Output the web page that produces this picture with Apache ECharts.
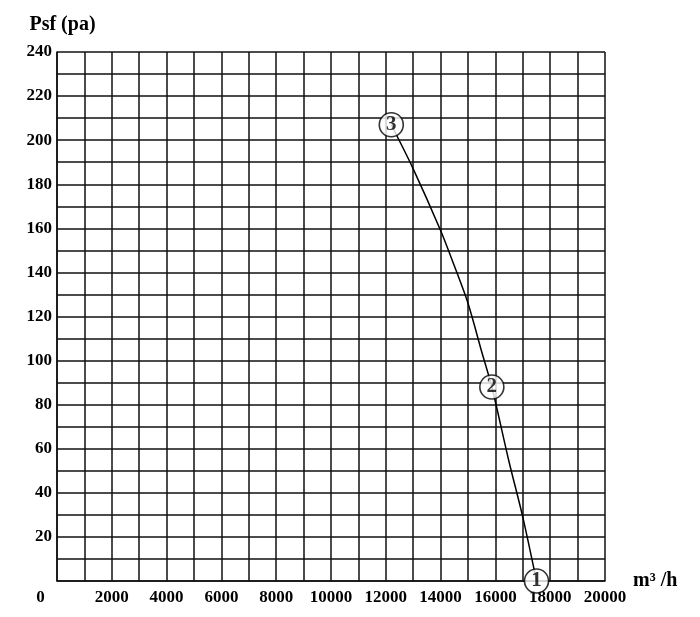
<!DOCTYPE html>
<html>
<head>
<meta charset="utf-8">
<script src="https://cdn.jsdelivr.net/npm/echarts@6/dist/echarts.min.js"></script>
<style>
  html, body { margin: 0; padding: 0; background: #fff; }
  #main { width: 700px; height: 617px; }
</style>
</head>
<body>
<div id="main"></div>
<script>
// 风机性能曲线 数据
var flow = [12200, 13000, 14000, 14500, 15000, 15500, 15870, 16500, 17000, 17500];
var pressure = [207, 187, 159, 143, 126, 104, 88, 54, 29, 0];
var pointFlow = [17500, 15870, 12200];
var pointPressure = [0, 88, 207];
var pointNames = ['1', '2', '3'];

(function () {
  var myChart = echarts.init(document.getElementById('main'));
  var font = 'Liberation Serif';
  var gridLine = { color: '#111', width: 1.5 };

  var option = {
    backgroundColor: '#fff',
    animation: false,
    grid: { left: 57, right: 95, top: 52, bottom: 36 },
    xAxis: {
      type: 'value',
      min: 0,
      max: 20000,
      interval: 2000,
      name: 'm\u00b3 /h',
      nameLocation: 'end',
      nameGap: 28,
      nameTextStyle: { color: '#000', fontFamily: font, fontWeight: 'bold', fontSize: 20, padding: [22, 0, 0, 0] },
      axisLine: { show: true, lineStyle: gridLine },
      axisTick: { show: false },
      splitLine: { show: true, lineStyle: gridLine },
      minorTick: { show: false, splitNumber: 2 },
      minorSplitLine: { show: true, lineStyle: gridLine },
      axisLabel: {
        margin: 8,
        color: '#000',
        fontFamily: font,
        fontWeight: 'bold',
        fontSize: 17,
        formatter: function (v) {
          return v === 0 ? '{o|0}' : v;
        },
        rich: {
          o: { padding: [0, 33, 0, 0], fontFamily: font, fontWeight: 'bold', fontSize: 17, color: '#000' }
        }
      }
    },
    yAxis: {
      type: 'value',
      min: 0,
      max: 240,
      interval: 20,
      name: 'Psf (pa)',
      nameLocation: 'end',
      nameGap: 17,
      nameTextStyle: { color: '#000', fontFamily: font, fontWeight: 'bold', fontSize: 20, align: 'center', padding: [0, 0, 0, 11] },
      axisLine: { show: true, lineStyle: gridLine },
      axisTick: { show: false },
      splitLine: { show: true, lineStyle: gridLine },
      minorTick: { show: false, splitNumber: 2 },
      minorSplitLine: { show: true, lineStyle: gridLine },
      axisLabel: {
        margin: 5,
        color: '#000',
        fontFamily: font,
        fontWeight: 'bold',
        fontSize: 17,
        formatter: function (v) {
          return v === 0 ? '' : v;
        }
      }
    },
    series: [
      {
        type: 'line',
        smooth: 0.3,
        symbol: 'none',
        lineStyle: { color: '#000', width: 1.5 },
        data: flow.map(function (x, i) { return [x, pressure[i]]; }),
        z: 2
      },
      {
        type: 'scatter',
        symbol: 'circle',
        symbolSize: 24,
        itemStyle: { color: '#fff', borderColor: '#000', borderWidth: 1.6 },
        label: {
          show: true,
          position: 'inside',
          color: '#000',
          fontFamily: font,
          fontWeight: 'bold',
          fontSize: 21,
          formatter: function (p) { return pointNames[p.dataIndex]; }
        },
        data: pointFlow.map(function (x, i) { return [x, pointPressure[i]]; }),
        z: 5
      }
    ]
  };

  if (option && typeof option === 'object') {
    myChart.setOption(option);
  }
  window.addEventListener('resize', myChart.resize);
})();
</script>
</body>
</html>
